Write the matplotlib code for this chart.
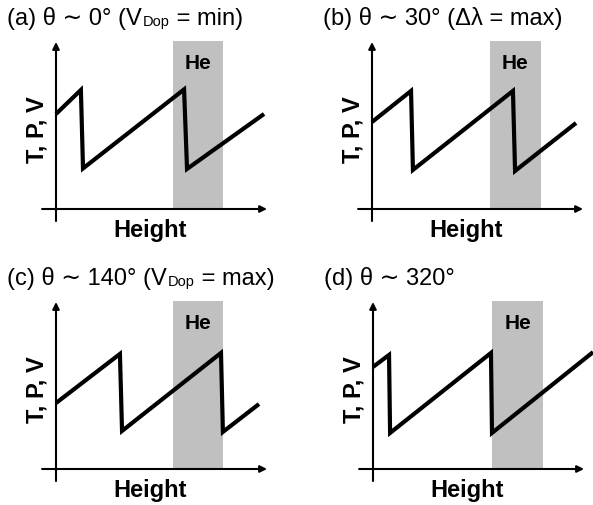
import matplotlib
matplotlib.use("Agg")
import matplotlib.pyplot as plt

plt.rcParams['font.family'] = ['Liberation Sans', 'DejaVu Sans']

# panel titles: main part, subscript, rest
title_main = ["(a) θ ∼ 0° (V", "(b) θ ∼ 30° (Δλ = max)",
              "(c) θ ∼ 140° (V", "(d) θ ∼ 320°"]
title_sub = ["Dop", "", "Dop", ""]
title_tail = [" = min)", "", " = max)", ""]

# sawtooth profiles (height, value)
height_a = [0, 1.18, 1.28, 6.07, 6.21, 9.86]
value_a = [5.69, 7.13, 2.43, 7.16, 2.40, 5.69]
height_b = [0, 1.85, 1.94, 6.68, 6.78, 9.67]
value_b = [5.21, 7.07, 2.34, 7.07, 2.28, 5.15]
height_c = [0, 3.03, 3.13, 7.82, 7.91, 9.62]
value_c = [3.95, 6.89, 2.28, 6.95, 2.22, 3.89]
height_d = [0, 0.76, 0.81, 5.59, 5.64, 10.43]
value_d = [6.11, 6.83, 2.16, 6.95, 2.16, 7.0]

# He layer (height range)
he_a = [5.55, 7.92]
he_b = [5.59, 8.01]
he_c = [5.55, 7.92]
he_d = [5.64, 8.06]
he_top = 10.05

profiles = [(height_a, value_a, he_a), (height_b, value_b, he_b),
            (height_c, value_c, he_c), (height_d, value_d, he_d)]

# pixel origin of each panel, pixels per data unit
origins = [(56, 210), (372, 210), (56, 470), (373, 470)]
sx, sy = 21.1, 16.7
W, H = 593, 506
x0, x1, y0, y1 = -2.6, 11.0, -2.2, 11.9

fig = plt.figure(figsize=(W / 100, H / 100), dpi=100)

for i, (hx, vy, he) in enumerate(profiles):
    ox, oy = origins[i]
    left = (ox + x0 * sx) / W
    bottom = (H - (oy - y0 * sy)) / H
    ax = fig.add_axes([left, bottom, (x1 - x0) * sx / W, (y1 - y0) * sy / H])
    ax.set_xlim(x0, x1)
    ax.set_ylim(y0, y1)
    ax.axis('off')

    ax.fill_between(he, 0, he_top, color='#c0c0c0', lw=0, zorder=1)
    ax.text(sum(he) / 2, 8.8, "He", fontsize=15, fontweight='bold',
            ha='center', va='center', zorder=3)

    ax.annotate('', xy=(10.0, 0), xytext=(-0.66, 0),
                arrowprops=dict(arrowstyle='-|>', lw=1.5, color='black',
                                mutation_scale=10, shrinkA=0, shrinkB=0),
                zorder=2)
    ax.annotate('', xy=(0, 10.0), xytext=(0, -0.72),
                arrowprops=dict(arrowstyle='-|>', lw=1.5, color='black',
                                mutation_scale=10, shrinkA=0, shrinkB=0),
                zorder=2)

    ax.plot(hx, vy, color='black', lw=3, solid_joinstyle='miter',
            solid_capstyle='butt', clip_on=False, zorder=4)

    ax.text(4.45, -1.6, "Height", fontsize=17, fontweight='bold',
            ha='center', va='baseline')
    ax.text(-0.9, 4.8, "T, P, V", fontsize=17, fontweight='bold',
            rotation=90, ha='center', va='center')

    t1 = ax.text(-2.32, 11.05, title_main[i], fontsize=17,
                 ha='left', va='baseline')
    if title_sub[i]:
        t2 = ax.annotate(title_sub[i], xy=(1, 0), xycoords=t1,
                         xytext=(1.0, 0.7), textcoords='offset points',
                         fontsize=10.5, ha='left', va='bottom')
        ax.annotate(title_tail[i], xy=(1, 0), xycoords=(t2, t1),
                    fontsize=17, ha='left', va='bottom')

fig.savefig("out.png", dpi=100)
